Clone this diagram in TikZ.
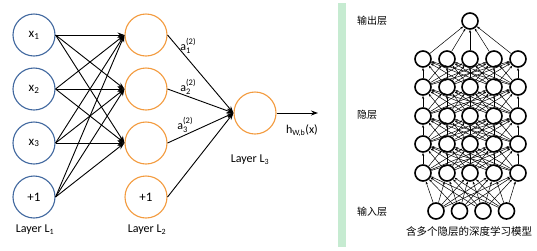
\documentclass[tikz,border=0pt]{standalone}
\usepackage{fontspec}
\setmainfont{Carlito}
\newfontfamily\cjk{Noto Sans CJK SC}
\usetikzlibrary{arrows.meta}
\definecolor{nnblue}{HTML}{41689F}
\definecolor{nnorange}{HTML}{F39B3E}
\definecolor{bargreen}{HTML}{C6EBD1}
\newcommand{\actlab}[1]{a\raisebox{-0.55ex}{\fontsize{8.5}{7.5}\selectfont\shortstack[l]{(2)\\#1}}}
\begin{document}
\begin{tikzpicture}[x=1pt,y=-1pt,
  inl/.style={circle,draw=nnblue,line width=1.1pt,minimum size=42pt,inner sep=0pt,font=\fontsize{13}{15}\selectfont},
  hid/.style={circle,draw=nnorange,line width=1.1pt,minimum size=42pt,inner sep=0pt,font=\fontsize{13}{15}\selectfont},
  lab/.style={font=\fontsize{12}{14}\selectfont,inner sep=0pt},
  conn/.style={line width=0.9pt,-{Stealth[length=7pt,width=5pt]}},
  dn/.style={circle,draw=black,line width=1.6pt,minimum size=16pt,inner sep=0pt},
  dconn/.style={line width=0.5pt,-{Stealth[length=3pt,width=2.2pt]}},
  cjklab/.style={font=\cjk\fontsize{10}{12}\selectfont,inner sep=0pt}
]
\useasboundingbox (0,0) rectangle (537,250);
\fill[white] (0,0) rectangle (537,250);
% left panel nodes
\node[inl] (x1) at (34,35) {x\textsubscript{1}};
\node[inl] (x2) at (34,89) {x\textsubscript{2}};
\node[inl] (x3) at (34,143) {x\textsubscript{3}};
\node[inl] (b1) at (34,197) {+1};
\node[hid] (h1) at (146,35) {};
\node[hid] (h2) at (146,89) {};
\node[hid] (h3) at (146,143) {};
\node[hid] (b2) at (146,197) {+1};
\node[hid] (o) at (255,113) {};
\coordinate (out) at (318,113);
% connections L1 -> L2
\foreach \s in {x1,x2,x3,b1}{
  \foreach \t in {h1,h2,h3}{
    \draw[conn] (\s.east) -- (\t.west);
  }
}
% L2 -> L3
\foreach \s in {h1,h2,h3,b2}{
  \draw[conn] (\s.east) -- (o.west);
}
\draw[conn] (o.east) -- (out);
% labels
\node[lab] (a1) at (188,46) {\actlab{1}};
\node[lab] (a2) at (188,87) {\actlab{2}};
\node[lab] (a3) at (185,125) {\actlab{3}};
\node[lab] (hx) at (302,131) {h\textsubscript{W,b}(x)};
\node[lab] (L1) at (35,230) {Layer L\textsubscript{1}};
\node[lab] (L2) at (147,230) {Layer L\textsubscript{2}};
\node[lab] (L3) at (250,160) {Layer L\textsubscript{3}};
% green bar
\fill[bargreen] (338,3) rectangle (346,247);
% right panel
\node[cjklab,anchor=west] (t1) at (357,21) {输出层};
\node[cjklab,anchor=west] (t2) at (357,115) {隐层};
\node[cjklab,anchor=west] (t3) at (357,212) {输入层};
\node[cjklab,font=\cjk\fontsize{10.5}{12}\selectfont] (t4) at (469,232) {含多个隐层的深度学习模型};
\node[dn] (r0) at (470,21) {};
\foreach \j/\y in {1/173,2/144,3/116,4/87,5/59}{
  \foreach \i/\x in {1/423,2/447,3/470,4/494,5/518}{
    \node[dn] (r\j\i) at (\x,\y) {};
  }
}
\foreach \i/\x in {1/436,2/459.5,3/483,4/506.5}{
  \node[dn] (in\i) at (\x,211) {};
}
% input -> hidden 1
\foreach \a in {1,...,4}{
  \foreach \b in {1,...,5}{
    \draw[dconn] (in\a) -- (r1\b);
  }
}
% hidden -> hidden
\foreach \j/\k in {1/2,2/3,3/4,4/5}{
  \foreach \a in {1,...,5}{
    \foreach \b in {1,...,5}{
      \draw[dconn] (r\j\a) -- (r\k\b);
    }
  }
}
\foreach \a in {1,...,5}{
  \draw[dconn] (r5\a) -- (r0);
}
\end{tikzpicture}
\end{document}
